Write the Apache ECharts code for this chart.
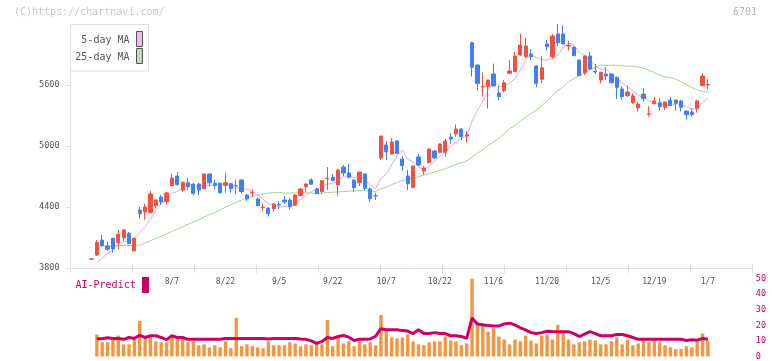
<!DOCTYPE html>
<html><head><meta charset="utf-8">
<script src="https://cdn.jsdelivr.net/npm/echarts@6/dist/echarts.min.js"></script>
<style>html,body{margin:0;padding:0;background:#fff}#c{width:772px;height:361px}</style>
</head><body><div id="c"></div>
<script>
const dates = ['7/16','7/17','7/18','7/22','7/23','7/24','7/25','7/28','7/29','7/30','7/31',
'8/1','8/4','8/5','8/6','8/7','8/8','8/12','8/13','8/14','8/15','8/18','8/19','8/20','8/21','8/22','8/25','8/26','8/27','8/28','8/29',
'9/1','9/2','9/3','9/4','9/5','9/8','9/9','9/10','9/11','9/12','9/16','9/17','9/18','9/19','9/22','9/24','9/25','9/26','9/29','9/30',
'10/1','10/2','10/3','10/6','10/7','10/8','10/9','10/10','10/14','10/15','10/16','10/17','10/20','10/21','10/22','10/23','10/24','10/27','10/28','10/29','10/30','10/31',
'11/4','11/5','11/6','11/7','11/10','11/11','11/12','11/13','11/14','11/17','11/18','11/19','11/20','11/21','11/25','11/26','11/27','11/28',
'12/1','12/2','12/3','12/4','12/5','12/8','12/9','12/10','12/11','12/12','12/15','12/16','12/17','12/18','12/19','12/22','12/23','12/24','12/25','12/26','12/29','12/30',
'1/5','1/6','1/7'];
const labelDates = ['8/7','8/22','9/5','9/22','10/7','10/22','11/6','11/20','12/5','12/19','1/7'];
const priceTicks = [3800,4400,5000,5600];

const opens = [3886,3928,4075,4016,4092,4049,4098,4141,3970,4370,
4351,4344,4413,4498,4452,4610,4705,4567,4639,4626,
4626,4580,4725,4633,4633,4613,4629,4607,4666,4518,
4538,4479,4394,4390,4384,4426,4469,4469,4416,4511,
4600,4666,4577,4551,4679,4692,4616,4793,4734,4665,
4639,4725,4577,4513,4882,5010,4921,5049,4872,4705,
4593,4892,4754,4836,4951,4938,4938,5088,5118,5167,
5098,6016,5797,5580,5584,5708,5521,5544,5715,5731,
5895,5879,5905,5787,5656,6003,5879,6102,6102,5984,
5970,5846,5721,5885,5734,5649,5708,5708,5675,5561,
5495,5426,5377,5511,5312,5416,5426,5380,5452,5452,
5443,5344,5334,5367,5593,5600];
const closes = [3890,4052,4020,3984,3987,4131,4174,4039,4092,4334,
4400,4528,4469,4449,4538,4685,4620,4643,4600,4534,
4567,4725,4639,4613,4541,4639,4580,4613,4551,4479,
4544,4413,4400,4334,4430,4420,4449,4403,4518,4577,
4626,4623,4534,4659,4685,4659,4764,4734,4692,4590,
4744,4583,4482,4509,5098,4944,5039,4928,4806,4629,
4803,4813,4784,4970,4882,5020,5049,5069,5167,5092,
5111,5774,5616,5587,5649,5590,5485,5623,5738,5885,
5993,5984,5879,5616,5770,5977,6082,6016,6003,5990,
5888,5692,5885,5757,5728,5725,5689,5623,5577,5485,
5531,5492,5413,5466,5318,5443,5387,5433,5400,5420,
5380,5308,5308,5443,5688,5606];
const lows = [3886,3918,4010,3970,3951,3984,4066,4039,3961,4285,
4275,4338,4387,4420,4426,4605,4610,4551,4567,4511,
4518,4577,4600,4574,4528,4541,4541,4521,4534,4459,
4495,4407,4361,4305,4354,4377,4430,4377,4413,4508,
4544,4616,4528,4534,4567,4656,4511,4705,4682,4551,
4607,4567,4452,4469,4862,4862,4915,4921,4757,4567,
4583,4803,4718,4829,4872,4928,4895,5023,5092,5059,
5033,5682,5544,5485,5370,5587,5452,5528,5705,5728,
5885,5862,5846,5577,5616,5938,5856,5984,6000,5938,
5885,5688,5698,5747,5708,5616,5649,5616,5462,5459,
5485,5413,5338,5436,5289,5410,5347,5354,5393,5347,
5338,5262,5288,5328,5590,5557];
const highs = [3890,4075,4125,4059,4098,4174,4184,4154,4098,4403,
4430,4557,4475,4518,4548,4728,4744,4649,4685,4633,
4639,4728,4728,4666,4639,4738,4639,4669,4669,4525,
4574,4495,4436,4393,4436,4459,4508,4485,4525,4587,
4633,4682,4590,4665,4793,4725,4770,4813,4823,4669,
4747,4731,4593,4541,5100,5049,5079,5059,4901,4764,
4806,4921,4806,4977,4961,5026,5069,5128,5210,5177,
5147,6026,5800,5721,5652,5810,5593,5649,5846,5928,
6102,6069,5954,5797,5885,6043,6102,6200,6190,6036,
5984,5849,5888,5928,5807,5728,5774,5711,5682,5590,
5590,5518,5436,5567,5393,5485,5469,5436,5482,5456,
5452,5347,5370,5452,5715,5659];
const ma5 = [null,3856,3900,3940,3980,4035,4059,4063,4085,4154,
4208,4279,4365,4436,4477,4534,4552,4587,4617,4616,
4593,4614,4613,4616,4617,4631,4602,4597,4585,4572,
4553,4520,4477,4434,4424,4399,4407,4407,4444,4473,
4515,4549,4576,4604,4625,4632,4660,4700,4707,4688,
4705,4669,4618,4582,4683,4723,4814,4904,4963,4869,
4841,4796,4767,4800,4850,4894,4941,4998,5037,5079,
5098,5243,5352,5436,5547,5643,5585,5587,5617,5664,
5745,5845,5896,5871,5848,5845,5865,5892,5970,6014,
5996,5918,5892,5842,5790,5757,5757,5704,5668,5620,
5581,5542,5500,5477,5444,5426,5405,5409,5396,5417,
5404,5388,5363,5372,5425,5471];
const ma25 = [null,4020,4018,4018,4020,4020,4022,4022,4024,4025,
4045,4068,4090,4112,4135,4160,4183,4207,4230,4253,
4275,4300,4325,4347,4370,4400,4421,4445,4468,4487,
4504,4513,4528,4538,4541,4542,4539,4536,4539,4541,
4538,4538,4534,4536,4542,4546,4548,4552,4555,4557,
4561,4561,4556,4554,4579,4595,4620,4641,4660,4668,
4683,4698,4713,4731,4743,4759,4776,4797,4818,4834,
4852,4892,4928,4964,5006,5040,5076,5121,5171,5202,
5244,5282,5320,5352,5398,5445,5496,5545,5586,5631,
5665,5691,5724,5747,5773,5797,5794,5794,5794,5787,
5785,5785,5777,5766,5743,5721,5697,5679,5671,5657,
5633,5602,5574,5551,5539,5528];
const volume = [null,14.1,9.1,9.1,10.9,13.4,7.8,7.8,10.9,22.8,
12.2,12.8,9.7,9.1,9.1,12.2,11.6,12.8,9.1,9.7,
7.2,7.8,5.9,7.2,5.9,9.7,5.3,24.7,6.6,7.8,
6.6,5.9,5.3,9.7,7.2,7.2,7.2,9.1,8.4,6.6,
7.8,7.2,9.1,7.8,23.4,6.6,12.2,8.4,9.7,6.6,
9.7,7.8,9.1,7.2,26.6,16.6,12.2,11.6,12.2,14.1,
9.7,7.8,7.2,9.1,9.7,9.7,12.8,10.3,9.7,7.2,
8.4,50,21.6,20.3,15.9,18.4,12.8,10.9,7.8,10.9,
9.7,13.4,10.3,8.4,13.4,14.1,10.9,20.3,16.6,10.9,
7.8,9.1,9.7,10.9,10.3,7.8,7.8,9.7,12.2,7.8,
10.9,7.2,8.4,10.3,9.1,10.3,9.1,7.2,5.9,4.7,
4.9,6.6,5.9,9.7,14.7,10.3];
const aiPredict = [null,11.4,11.4,12.0,11.6,11.6,11,12.2,11.6,13.6,
12.2,13.3,13.3,12.2,10.8,13.3,12.2,12.2,11,11,
11,11,11,11,11,11.6,11.6,11.6,11.6,11.6,
11.6,11.6,11.6,11.2,11.6,11.6,11.6,11.6,11.6,11.2,
11,10,8.4,9.7,12.2,11.6,12.8,13.5,12.4,10.3,
11,11,11.2,13,17.8,17.2,17.2,17.2,16.6,16.3,
14.7,17.2,14.7,14.7,15.3,14.7,14.7,13.3,13.3,12.8,
11.6,24.7,20.8,20.3,19.8,19.5,19.5,20.9,21.4,20.3,
18.4,17,15.3,14.7,15.3,16.2,16,15.9,15.9,15.9,
14.7,12.8,14.3,15.9,14.7,13.3,13.3,13.3,14.1,14.1,
13.3,12.2,11,11,11,11,11,11,11,11,
11,10.3,10.8,10.5,11.6,11];

const FONT = '"DejaVu Sans Mono", monospace';
const UP = '#f25042', DOWN = '#4080f0';
const candleData = dates.map((d, i) => [opens[i], closes[i], lows[i], highs[i]]);
const L = 88.82, R = 61.42;

const chart = echarts.init(document.getElementById('c'), null, {renderer: 'canvas'});
chart.setOption({
  animation: false,
  backgroundColor: '#fff',
  grid: [
    {left: 70.5, right: 19.5, top: 24, bottom: 93},
    {left: L, right: R, top: 24, bottom: 93},
    {left: L, right: R, top: 278.5, bottom: 2.5}
  ],
  xAxis: [
    {gridIndex: 0, type: 'value', position: 'bottom', min: 0, max: 11, interval: 1,
     axisLine: {show: true, lineStyle: {color: '#e0e0e0'}},
     axisTick: {show: true, length: 5, lineStyle: {color: '#e0e0e0'}},
     axisLabel: {show: false}, splitLine: {show: false}},
    {gridIndex: 0, type: 'value', position: 'bottom', min: 0, max: 11, interval: 1,
     axisLine: {show: false},
     axisTick: {show: true, inside: true, length: 4, lineStyle: {color: '#e0e0e0'}},
     axisLabel: {show: false}, splitLine: {show: false}},
    {gridIndex: 1, type: 'category', position: 'bottom', data: dates, boundaryGap: true,
     axisLine: {show: false}, axisTick: {show: false}, splitLine: {show: false},
     axisLabel: {interval: (i, v) => labelDates.includes(v), margin: 10, fontSize: 8, fontFamily: FONT, color: '#555'}},
    {gridIndex: 2, type: 'category', data: dates, boundaryGap: true, show: false}
  ],
  yAxis: [
    {gridIndex: 0, type: 'value', min: 3800, max: 6200,
     axisLine: {show: true, lineStyle: {color: '#e0e0e0'}},
     axisTick: {show: true, length: 5, customValues: priceTicks, lineStyle: {color: '#e0e0e0'}},
     axisLabel: {customValues: priceTicks, formatter: v => String(v), margin: 11, fontSize: 8.5, fontFamily: FONT, color: '#555'},
     splitLine: {show: false}},
    {gridIndex: 1, type: 'value', min: 3800, max: 6200, show: false},
    {gridIndex: 2, type: 'value', min: 0, max: 50, interval: 10, position: 'right', offset: 41.7,
     axisLine: {show: false}, axisTick: {show: false}, splitLine: {show: false},
     axisLabel: {margin: 3.5, fontSize: 8.5, fontFamily: FONT, color: '#cc0066'}}
  ],
  series: [
    {name: '25-day MA', type: 'line', xAxisIndex: 2, yAxisIndex: 1, data: ma25, symbol: 'none',
     lineStyle: {width: 1, color: '#a4d596'}, z: 2},
    {name: '5-day MA', type: 'line', xAxisIndex: 2, yAxisIndex: 1, data: ma5, symbol: 'none',
     lineStyle: {width: 1, color: '#e6a4e6'}, z: 2},
    {name: 'price', type: 'candlestick', xAxisIndex: 2, yAxisIndex: 1, data: candleData, barWidth: 3.7,
     itemStyle: {color: UP, color0: DOWN, borderColor: UP, borderColor0: DOWN, borderWidth: 1}, z: 3},
    {name: 'volume', type: 'bar', xAxisIndex: 3, yAxisIndex: 2, data: volume, barWidth: 3.4,
     itemStyle: {color: '#f39642'}, z: 2},
    {name: 'AI-Predict', type: 'line', xAxisIndex: 3, yAxisIndex: 2, data: aiPredict, symbol: 'none',
     lineStyle: {width: 3, color: '#cc0066'}, z: 3}
  ],
  graphic: [
    {type: 'text', x: 14, y: 12.5, style: {text: '(C)https://chartnavi.com/', font: '10px ' + FONT, fill: '#c8c8c8', verticalAlign: 'middle'}},
    {type: 'text', x: 757, y: 12.5, style: {text: '6701', font: '10px ' + FONT, fill: '#b4b4b4', align: 'right', verticalAlign: 'middle'}},
    {type: 'rect', shape: {x: 70.5, y: 24.5, width: 78, height: 46.5}, style: {fill: '#fff', stroke: '#e0e0e0', lineWidth: 1}, z: 10},
    {type: 'text', x: 129.5, y: 40, style: {text: '5-day MA', font: '10px ' + FONT, fill: '#555', align: 'right', verticalAlign: 'middle'}, z: 11},
    {type: 'rect', shape: {x: 136.5, y: 31.5, width: 6, height: 15}, style: {fill: '#f0b8f0', stroke: '#555', lineWidth: 1}, z: 11},
    {type: 'text', x: 129.5, y: 57, style: {text: '25-day MA', font: '10px ' + FONT, fill: '#555', align: 'right', verticalAlign: 'middle'}, z: 11},
    {type: 'rect', shape: {x: 136.5, y: 48.5, width: 6, height: 15}, style: {fill: '#b8dfb0', stroke: '#555', lineWidth: 1}, z: 11},
    {type: 'text', x: 75.5, y: 285.5, style: {text: 'AI-Predict', font: '10px ' + FONT, fill: '#cc0066', verticalAlign: 'middle'}},
    {type: 'rect', shape: {x: 142, y: 277, width: 7, height: 16}, style: {fill: '#cc0066'}}
  ]
});
</script>
</body></html>
